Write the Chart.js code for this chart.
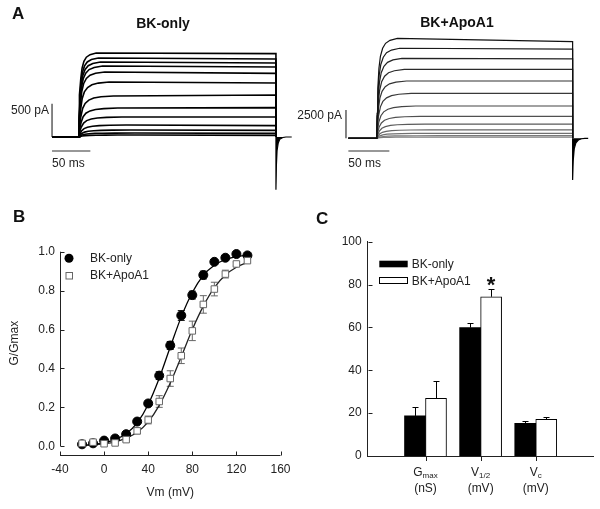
<!DOCTYPE html>
<html><head><meta charset="utf-8">
<script src="https://cdn.jsdelivr.net/npm/chart.js@4.4.1/dist/chart.umd.min.js"></script>
<style>
html,body{margin:0;padding:0;background:#fff;}
#wrap{position:relative;width:600px;height:509px;overflow:hidden;background:#fff;font-family:"Liberation Sans",Arial,Helvetica,sans-serif;color:#111;}
canvas{position:absolute;}
.lab{position:absolute;font-weight:bold;font-size:17px;line-height:1;}
.ttl{position:absolute;font-weight:bold;font-size:14px;line-height:1;transform:translateX(-50%);white-space:nowrap;}
</style></head><body>
<div id="wrap">
<canvas id="cA1" width="300" height="200" style="left:0;top:0"></canvas>
<canvas id="cA2" width="320" height="200" style="left:280px;top:0"></canvas>
<canvas id="cB" width="300" height="319" style="left:0;top:190px"></canvas>
<canvas id="cC" width="300" height="319" style="left:300px;top:190px"></canvas>
<div class="lab" style="left:12px;top:5px">A</div>
<div class="lab" style="left:13px;top:208px">B</div>
<div class="lab" style="left:316px;top:210px">C</div>
<div class="ttl" style="left:163px;top:16px">BK-only</div>
<div class="ttl" style="left:457px;top:15px">BK+ApoA1</div>
</div>
<script>
const FONT = '"Liberation Sans", Arial, Helvetica, sans-serif';
Chart.defaults.font.family = FONT;
Chart.defaults.font.size = 12;
Chart.defaults.color = '#222';

// ================= Panel A: current traces =================
// shared activation time course (ms after step onset) and fraction of plateau reached
const stepTimeTemplate = [0, 0.6, 1.5, 3, 5, 8, 12, 18, 28];
const stepFracTemplate = [0, 0.25, 0.5, 0.7, 0.82, 0.9, 0.95, 0.98, 1];

// BK-only traces (pA): plateau just after activation, at end of step, and activation slowness
const bkStart = [1260, 1185, 1125, 1065, 975, 825, 615, 435, 300, 180, 105, 60, 30];
const bkEnd   = [1250, 1170, 1110, 1050, 955, 810, 630, 440, 300, 170, 100, 55, 25];
const bkRise  = [0.8, 0.9, 1.0, 1.1, 1.2, 1.4, 1.6, 1.8, 2.0, 2.2, 2.4, 2.6, 2.8];
const bkTail  = [[257,0],[257,-790],[257.6,-420],[258.5,-200],[260,-90],[262,-35],[266,-8],[270,0],[277.6,0]];

// BK+ApoA1 traces (pA)
const apoStart = [8830, 7950, 7060, 6090, 5060, 3970, 2850, 1940, 1260, 750, 440, 230, 110];
const apoEnd   = [8530, 7880, 7020, 6090, 5060, 3970, 2850, 1940, 1260, 750, 440, 230, 100];
const apoRise  = [0.9, 1.0, 1.1, 1.2, 1.3, 1.5, 1.7, 1.9, 2.1, 2.3, 2.5, 2.7, 2.9];
const apoTail  = [[239,0],[239,-3680],[239.7,-2000],[241,-900],[243,-400],[246,-150],[250,-40],[254,0],[258,0]];
const apoColors = ['#111','#1a1a1a','#222','#2a2a2a','#333','#3a3a3a','#444','#505050','#5a5a5a','#666','#707070','#7a7a7a','#808080'];

const aLabels = {
  id:'aLabels',
  afterDraw(chart, args, o){
    const {ctx, scales:{x,y}} = chart;
    ctx.save();
    ctx.font = '12px ' + FONT;
    ctx.fillStyle = '#222';
    ctx.textBaseline = 'middle';
    ctx.textAlign = 'right';
    ctx.fillText(o.amp, x.getPixelForValue(o.barX) - o.ampGap, y.getPixelForValue(o.ampY));
    ctx.textAlign = 'left';
    ctx.fillText(o.time, x.getPixelForValue(o.barT0), y.getPixelForValue(o.timeY));
    ctx.restore();
  }
};

function tracePoints(start, end, rise, t0, tEnd){
  const pts = [{x:t0,y:0},{x:0,y:0}];
  stepTimeTemplate.forEach((t,k)=>pts.push({x:t*rise, y:start*stepFracTemplate[k]}));
  pts.push({x:tEnd,y:end},{x:tEnd,y:0});
  return pts;
}

function panelA(id, c){
  const ds = c.start.map((s,i)=>({
    data: tracePoints(s, c.end[i], c.rise[i], c.t0, c.tEnd),
    borderColor: c.colors ? c.colors[i] : '#000', borderWidth: c.width,
    pointRadius:0, tension:0, fill:false
  }));
  ds.push({data: c.tail.map(p=>({x:p[0],y:p[1]})), borderColor:'#000', backgroundColor:'#000',
           borderWidth:1.2, pointRadius:0, tension:0, fill:{value:0}});
  ds.push({data:[{x:c.barX,y:0},{x:c.barX,y:c.barAmp}], borderColor:'#333', borderWidth:1.2, pointRadius:0});
  ds.push({data:[{x:c.barT0,y:c.barY},{x:c.barT0+c.barMs,y:c.barY}], borderColor:'#333', borderWidth:1.2, pointRadius:0});
  new Chart(document.getElementById(id), {
    type:'line',
    data:{datasets:ds},
    options:{
      responsive:false, animation:false, devicePixelRatio:1,
      layout:{padding:0},
      plugins:{legend:{display:false}, tooltip:{enabled:false},
        aLabels:{amp:c.ampLabel, time:'50 ms', barX:c.barX, barT0:c.barT0, ampY:c.ampLabelY, timeY:c.timeLabelY, ampGap:c.ampGap}},
      scales:{
        x:{type:'linear', display:false, min:c.xMin, max:c.xMax},
        y:{type:'linear', display:false, min:c.yMin, max:c.yMax}
      }
    },
    plugins:[aLabels]
  });
}

panelA('cA1', {start:bkStart, end:bkEnd, rise:bkRise, tail:bkTail, t0:-35.2, tEnd:257, width:1.6,
  xMin:-103.1, xMax:288.4, yMin:-945, yMax:2055,
  barX:-35.2, barAmp:500, barT0:-35.2, barMs:50, barY:-210,
  ampLabel:'500 pA', ampLabelY:390, timeLabelY:-400, ampGap:3});
panelA('cA2', {start:apoStart, end:apoEnd, rise:apoRise, tail:apoTail, t0:-34.6, tEnd:239, width:1.2, colors:apoColors,
  xMin:-118.0, xMax:272.4, yMin:-5448, yMax:12212,
  barX:-37.5, barAmp:2500, barT0:-34.6, barMs:50, barY:-1121,
  ampLabel:'2500 pA', ampLabelY:1970, timeLabelY:-2208, ampGap:4});

// ================= Panel B: G/Gmax vs Vm =================
const vm      = [-20,-10,0,10,20,30,40,50,60,70,80,90,100,110,120,130];
const gBK     = [0.010,0.015,0.029,0.040,0.062,0.127,0.220,0.363,0.518,0.672,0.777,0.880,0.948,0.969,0.988,0.981];
const gBKErr  = [0,0,0,0,0.005,0.008,0.012,0.02,0.02,0.025,0.02,0.02,0.01,0.008,0.005,0.005];
const gApo    = [0.015,0.021,0.013,0.017,0.034,0.079,0.135,0.230,0.348,0.465,0.593,0.729,0.808,0.885,0.937,0.954];
const gApoErr = [0.005,0.005,0.005,0.005,0.008,0.015,0.02,0.03,0.04,0.04,0.05,0.045,0.035,0.02,0.01,0.008];
const fitV    = [-20,-10,0,10,20,30,40,50,60,70,80,90,100,110,120,130];
const fitBK   = [0.005,0.009,0.018,0.034,0.064,0.12,0.215,0.35,0.51,0.665,0.79,0.878,0.93,0.96,0.975,0.982];
const fitApo  = [0.004,0.007,0.013,0.023,0.042,0.072,0.125,0.21,0.325,0.46,0.6,0.72,0.815,0.88,0.92,0.945];
const vmTicks = [-40,0,40,80,120,160];
const gTicks  = [0,0.2,0.4,0.6,0.8,1.0];

const bDecor = {
  id:'bDecor',
  beforeDatasetsDraw(chart){
    const {ctx, scales:{x,y}} = chart;
    ctx.save();
    const bars = (vals, errs, col) => {
      ctx.strokeStyle = col; ctx.lineWidth = 1;
      vals.forEach((v,i)=>{
        if(!errs[i]) return;
        const px = x.getPixelForValue(vm[i]);
        const y1 = y.getPixelForValue(v+errs[i]), y2 = y.getPixelForValue(v-errs[i]);
        ctx.beginPath();
        ctx.moveTo(px,y1); ctx.lineTo(px,y2);
        ctx.moveTo(px-3.5,y1); ctx.lineTo(px+3.5,y1);
        ctx.moveTo(px-3.5,y2); ctx.lineTo(px+3.5,y2);
        ctx.stroke();
      });
    };
    bars(gApo, gApoErr, '#666');
    bars(gBK, gBKErr, '#000');
    ctx.restore();
  },
  afterDraw(chart){
    const {ctx, chartArea:a, scales:{x,y}} = chart;
    ctx.save();
    ctx.strokeStyle = '#222'; ctx.lineWidth = 1;
    const lx = Math.round(a.left)+0.5, by = Math.round(a.bottom)+0.5;
    ctx.beginPath();
    ctx.moveTo(lx, y.getPixelForValue(1.0)); ctx.lineTo(lx, y.getPixelForValue(0));
    ctx.moveTo(x.getPixelForValue(-40), by); ctx.lineTo(x.getPixelForValue(160), by);
    gTicks.forEach(v=>{const py=Math.round(y.getPixelForValue(v))+0.5; ctx.moveTo(lx,py); ctx.lineTo(lx+4,py);});
    vmTicks.forEach(v=>{const px=Math.round(x.getPixelForValue(v))+0.5; ctx.moveTo(px,by); ctx.lineTo(px,by-4);});
    ctx.stroke();
    // axis titles
    ctx.fillStyle = '#222'; ctx.font = '12px ' + FONT;
    ctx.textAlign = 'center'; ctx.textBaseline = 'middle';
    ctx.fillText('Vm (mV)', x.getPixelForValue(60), a.bottom + 38);
    ctx.save();
    ctx.translate(15, y.getPixelForValue(0.53));
    ctx.rotate(-Math.PI/2);
    ctx.fillText('G/Gmax', 0, 0);
    ctx.restore();
    // legend
    const lgx = a.left + 9;
    ctx.fillStyle = '#000';
    ctx.beginPath(); ctx.arc(lgx, a.top + 6.6, 4.5, 0, Math.PI*2); ctx.fill();
    ctx.fillStyle = '#fff'; ctx.strokeStyle = '#666';
    ctx.fillRect(lgx-3.5, a.top+24.3-3.5, 7, 7); ctx.strokeRect(lgx-3.5+0.5, a.top+24.3-3.5, 6.5, 6.5);
    ctx.fillStyle = '#222'; ctx.textAlign = 'left';
    ctx.fillText('BK-only', a.left + 30, a.top + 6.6);
    ctx.fillText('BK+ApoA1', a.left + 30, a.top + 24.3);
    ctx.restore();
  }
};

new Chart(document.getElementById('cB'), {
  type:'line',
  data:{datasets:[
    {label:'BK+ApoA1', data: vm.map((v,i)=>({x:v,y:gApo[i]})), showLine:false, pointStyle:'rect',
     pointRadius:4.6, pointBackgroundColor:'#fff', pointBorderColor:'#666', pointBorderWidth:1, order:0, clip:false},
    {label:'BK-only', data: vm.map((v,i)=>({x:v,y:gBK[i]})), showLine:false, pointStyle:'circle',
     pointRadius:4.5, pointBackgroundColor:'#000', pointBorderColor:'#000', pointBorderWidth:1, order:1, clip:false},
    {label:'fit ApoA1', data: fitV.map((v,i)=>({x:v,y:fitApo[i]})), borderColor:'#222', borderWidth:1.3,
     pointRadius:0, cubicInterpolationMode:'monotone', order:2, clip:false},
    {label:'fit BK', data: fitV.map((v,i)=>({x:v,y:fitBK[i]})), borderColor:'#000', borderWidth:1.3,
     pointRadius:0, cubicInterpolationMode:'monotone', order:3, clip:false}
  ]},
  options:{
    responsive:false, animation:false, devicePixelRatio:1,
    layout:{padding:{left:0, top:61.7, right:19.5, bottom:0}},
    plugins:{legend:{display:false}, tooltip:{enabled:false}},
    scales:{
      x:{type:'linear', min:-40, max:160,
         grid:{display:false, drawTicks:false}, border:{display:false},
         afterBuildTicks: s=>{ s.ticks = vmTicks.map(v=>({value:v})); },
         afterFit: s=>{ s.height = 54; },
         ticks:{padding:7, autoSkip:false, maxRotation:0, callback:v=>String(v)}},
      y:{type:'linear', min:-0.045, max:1.0,
         grid:{display:false, drawTicks:false}, border:{display:false},
         afterBuildTicks: s=>{ s.ticks = gTicks.map(v=>({value:v})); },
         afterFit: s=>{ s.width = 60; },
         ticks:{padding:5, callback:v=>Number(v).toFixed(1)}}
    }
  },
  plugins:[bDecor]
});

// ================= Panel C: Boltzmann parameters =================
const catPos       = [1, 2, 3];
const catMain      = ['G', 'V', 'V'];
const catSub       = ['max', '1/2', 'c'];
const catUnit      = ['(nS)', '(mV)', '(mV)'];
const bkParam      = [18.7, 59.9, 15.2];
const bkParamErr   = [4.3, 2.0, 1.1];
const apoParam     = [26.9, 74.3, 17.1];
const apoParamErr  = [8.2, 3.5, 0.9];
const sigIndex     = [1];
const cTicks       = [0, 20, 40, 60, 80, 100];

const cDecor = {
  id:'cDecor',
  afterDatasetsDraw(chart){
    const {ctx, chartArea:a, scales:{x,y}} = chart;
    ctx.save();
    ctx.strokeStyle = '#000'; ctx.lineWidth = 1;
    [[bkParam,bkParamErr,0],[apoParam,apoParamErr,1]].forEach(([vals,errs,d])=>{
      const meta = chart.getDatasetMeta(d);
      vals.forEach((v,i)=>{
        const px = Math.round(meta.data[i].x)+0.5;
        const y0 = y.getPixelForValue(v), y1 = Math.round(y.getPixelForValue(v+errs[i]))+0.5;
        ctx.beginPath();
        ctx.moveTo(px,y0); ctx.lineTo(px,y1);
        ctx.moveTo(px-3,y1); ctx.lineTo(px+3,y1);
        ctx.stroke();
      });
    });
    // significance
    const m1 = chart.getDatasetMeta(1);
    ctx.fillStyle = '#111'; ctx.font = 'bold 22px ' + FONT;
    ctx.textAlign = 'center'; ctx.textBaseline = 'alphabetic';
    sigIndex.forEach(i=>{
      ctx.fillText('*', m1.data[i].x, y.getPixelForValue(apoParam[i]+apoParamErr[i]) + 3);
    });
    ctx.restore();
  },
  afterDraw(chart){
    const {ctx, chartArea:a, scales:{x,y}} = chart;
    ctx.save();
    ctx.strokeStyle = '#222'; ctx.lineWidth = 1;
    const lx = Math.round(a.left)+0.5, by = Math.round(a.bottom)+0.5;
    ctx.beginPath();
    cTicks.forEach(v=>{const py=Math.round(y.getPixelForValue(v))+0.5; ctx.moveTo(lx,py); ctx.lineTo(lx+4,py);});
    catPos.forEach(v=>{const px=Math.round(x.getPixelForValue(v))+0.5; ctx.moveTo(px,by); ctx.lineTo(px,by+4.5);});
    ctx.stroke();
    // category labels with subscripts
    ctx.fillStyle = '#222'; ctx.textBaseline = 'middle'; ctx.textAlign = 'left';
    catPos.forEach((v,i)=>{
      const px = x.getPixelForValue(v);
      ctx.font = '12px ' + FONT; const wm = ctx.measureText(catMain[i]).width;
      ctx.font = '8px ' + FONT;  const ws = ctx.measureText(catSub[i]).width;
      const sx = px - (wm+ws)/2;
      ctx.font = '12px ' + FONT; ctx.fillText(catMain[i], sx, a.bottom + 16.5);
      ctx.font = '8px ' + FONT;  ctx.fillText(catSub[i], sx + wm, a.bottom + 20);
      ctx.font = '12px ' + FONT; ctx.textAlign = 'center';
      ctx.fillText(catUnit[i], px, a.bottom + 32.5);
      ctx.textAlign = 'left';
    });
    // legend
    const lx0 = a.left + 11.6;
    ctx.fillStyle = '#000'; ctx.fillRect(lx0, a.top + 19, 28.4, 6.6);
    ctx.fillStyle = '#fff'; ctx.fillRect(lx0, a.top + 35.6, 28.4, 6.6);
    ctx.strokeStyle = '#000'; ctx.strokeRect(Math.round(lx0)+0.5, Math.round(a.top+35.6)+0.5, 28, 6);
    ctx.fillStyle = '#222'; ctx.font = '12px ' + FONT; ctx.textBaseline = 'middle';
    ctx.fillText('BK-only', a.left + 44, a.top + 23.3);
    ctx.fillText('BK+ApoA1', a.left + 44, a.top + 39.7);
    ctx.restore();
  }
};

new Chart(document.getElementById('cC'), {
  type:'bar',
  data:{datasets:[
    {label:'BK-only', data: catPos.map((p,i)=>({x:p,y:bkParam[i]})), backgroundColor:'#000', borderWidth:0, barThickness:21},
    {label:'BK+ApoA1', data: catPos.map((p,i)=>({x:p,y:apoParam[i]})), backgroundColor:'#fff', borderColor:'#000', borderWidth:1, barThickness:21}
  ]},
  options:{
    responsive:false, animation:false, devicePixelRatio:1,
    layout:{padding:{left:0, top:51.7, right:7, bottom:0}},
    plugins:{legend:{display:false}, tooltip:{enabled:false}},
    scales:{
      x:{type:'linear', min:0.36, max:3.63, grid:{display:false, drawTicks:false},
         border:{display:true, color:'#222', width:1},
         ticks:{display:false}, afterFit: s=>{ s.height = 53; }},
      y:{type:'linear', min:0, max:100, grid:{display:false, drawTicks:false},
         border:{display:true, color:'#222', width:1},
         afterBuildTicks: s=>{ s.ticks = cTicks.map(v=>({value:v})); },
         afterFit: s=>{ s.width = 67.7; },
         ticks:{padding:6}}
    }
  },
  plugins:[cDecor]
});
</script>
</body></html>
